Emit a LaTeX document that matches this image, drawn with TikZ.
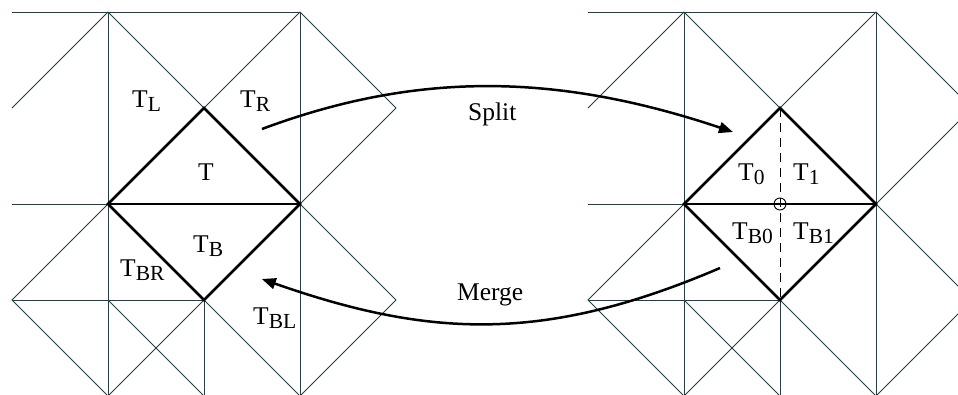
\documentclass[tikz,border=0pt]{standalone}
\usepackage{fontspec}
\setmainfont{Liberation Serif}
\usetikzlibrary{arrows.meta}
\definecolor{meshline}{RGB}{40,62,62}
% lowered, smaller index letters after T
\newcommand\lowsub[1]{\raisebox{-4.5pt}{\fontsize{21.5}{21.5}\selectfont #1}}

\tikzset{
  thinedge/.style={draw=meshline, line width=0.9pt},
  thickedge/.style={draw=black, line width=2.6pt, line join=miter},
  lbl/.style={anchor=base west, inner sep=0pt, font=\fontsize{25.5}{25.5}\selectfont},
  flow/.style={-{Triangle[length=14pt,width=11pt]}, line width=2.5pt},
  flowgap/.style={-{Triangle[length=14pt,width=11pt,sep=3pt]}, line width=2.5pt},
  bisector/.style={draw=black, line width=0.9pt, dash pattern=on 9pt off 6pt},
  midpoint/.style={draw=black, line width=0.9pt},
  pics/mesh/.style={code={
    % fine triangulation around the diamond
    \draw[thinedge] (0,0) -- (288,0);
    \draw[thinedge] (0,96) -- (96,0) -- (192,96) -- (288,0);
    \draw[thinedge] (288,0) -- (384,96) -- (288,192) -- (384,288) -- (288,384);
    \draw[thinedge] (96,0) -- (96,384);
    \draw[thinedge] (288,0) -- (288,384);
    \draw[thinedge] (0,192) -- (96,192);
    \draw[thinedge] (96,192) -- (0,288) -- (96,384);
    \draw[thinedge] (0,288) -- (192,288);
    \draw[thinedge] (96,288) -- (192,384);
    \draw[thinedge] (192,288) -- (96,384);
    \draw[thinedge] (192,288) -- (192,384);
    \draw[thinedge] (192,288) -- (288,384);
    % the triangle pair T / T_B
    \draw[thickedge] (96,192) -- (192,96) -- (288,192) -- (192,288) -- cycle;
    \draw[thickedge] (96,192) -- (288,192);
  }}
}

\begin{document}
\begin{tikzpicture}[x=1pt,y=-1pt]
  \useasboundingbox (0,0) rectangle (958,394);
  \clip (0,0) rectangle (958,394);

  % left mesh (before split) and right mesh (after split)
  \pic at (12,12) {mesh};
  \pic at (588,12) {mesh};

  % bisecting edge of the split triangles
  \draw[bisector] (780,108) -- (780,300);
  \draw[midpoint] (780,204) circle (6);

  % labels, left mesh
  \node[lbl] (tl)  at (132,107) {T\lowsub{L}};
  \node[lbl] (tr)  at (240,107) {T\lowsub{R}};
  \node[lbl] (t)   at (198,180) {T};
  \node[lbl] (tb)  at (193,252) {T\lowsub{B}};
  \node[lbl] (tbr) at (120,276) {T\lowsub{BR}};
  \node[lbl] (tbl) at (253,324) {T\lowsub{BL}};

  % labels, right mesh
  \node[lbl] (t0)  at (738,180) {T\lowsub{0}};
  \node[lbl] (t1)  at (793,180) {T\lowsub{1}};
  \node[lbl] (tb0) at (732,239) {T\lowsub{B0}};
  \node[lbl] (tb1) at (793,239) {T\lowsub{B1}};

  % operation names
  \node[lbl] (split) at (468,120) {Split};
  \node[lbl] (merge) at (457,300) {Merge};

  % arrows between the two meshes
  \coordinate (splitfrom) at (262,129);
  \coordinate (splitto)   at (733,132);
  \coordinate (mergefrom) at (720,268);
  \coordinate (mergeto)   at (259,278);
  \draw[flow] (splitfrom) .. controls (420,70) and (560,74) .. (splitto);
  \draw[flowgap] (mergefrom) .. controls (545,343) and (430,338) .. (mergeto);
\end{tikzpicture}
\end{document}
